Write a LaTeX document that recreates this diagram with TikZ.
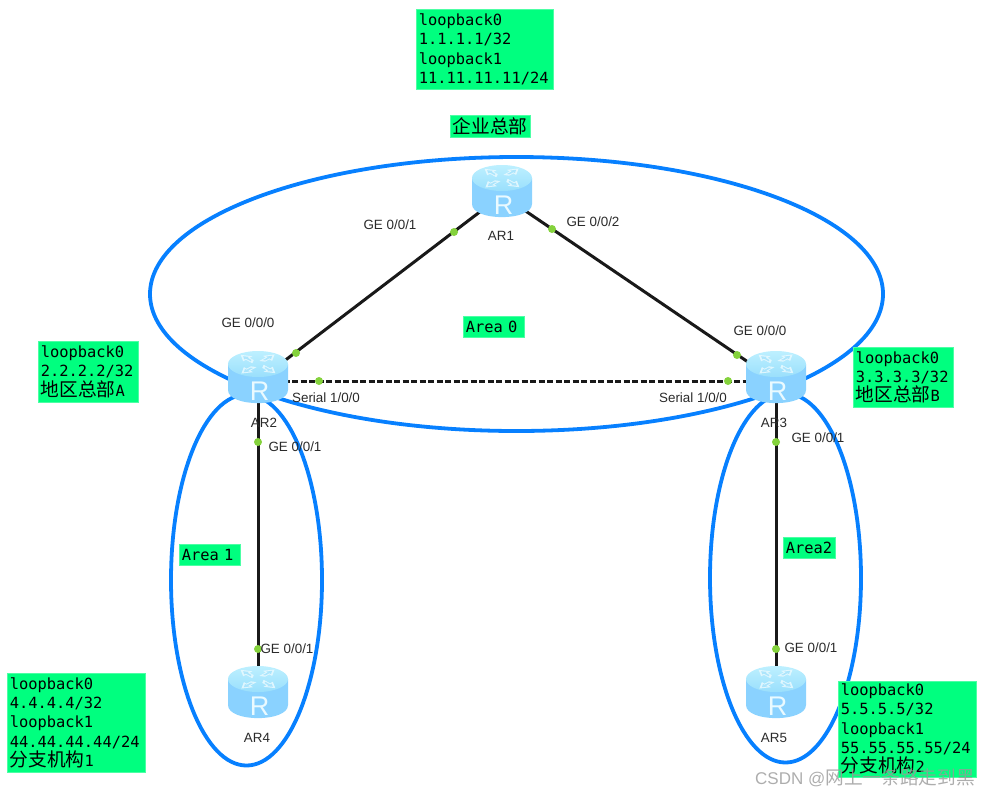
\documentclass[tikz,border=0pt]{standalone}
\usepackage{fontspec}
\setmainfont{Liberation Sans}
\setmonofont{DejaVu Sans Mono}
\newfontfamily\cjk{Noto Sans CJK SC}
\newcommand{\mymono}{\ttfamily\fontsize{15.4}{19.3}\selectfont}
\newcommand{\myhan}[1]{{\cjk\fontsize{18.7}{19.3}\selectfont #1}}
\definecolor{boxgreen}{HTML}{00FF7F}
\definecolor{areablue}{HTML}{0780FF}
\definecolor{dotgreen}{HTML}{84D23C}
\definecolor{labelink}{HTML}{2A2A2A}
\definecolor{bodyedge}{HTML}{8AD2FF}
\definecolor{bodymid}{HTML}{A6E0FF}
\definecolor{toplight}{HTML}{BDF0FF}
\definecolor{topdark}{HTML}{9ADFFC}
\definecolor{glyphpale}{HTML}{EAFAFF}
\tikzset{
  x=1pt,y=-1pt,
  greenbox/.style={fill=boxgreen,draw=boxgreen!70!white,line width=.6pt,anchor=north west,inner sep=2.5pt,align=left,font=\mymono},
  arealoop/.style={draw=areablue,line width=3.8pt},
  wire/.style={draw=black!90,line width=3pt},
  serialwire/.style={wire,dash pattern=on 6pt off 2.5pt},
  routerhost/.style={minimum width=60pt,minimum height=60pt,inner sep=0pt},
  portdot/.style={circle,fill=dotgreen,inner sep=0pt,minimum size=8pt},
  portlabel/.style={font=\fontsize{13.4}{15}\selectfont,text=labelink,inner sep=0pt},
}
\newcommand{\routericon}[1]{%
  \begin{scope}[shift={(#1)}]
    \path[left color=bodyedge,middle color=bodymid,right color=bodyedge]
      (-30,-17) -- (-30,9) .. controls (-30,26.5) and (30,26.5) .. (30,9) -- (30,-17) -- cycle;
    \path[top color=toplight,bottom color=topdark] (0,-17) ellipse[x radius=30,y radius=13];
    \begin{scope}[shift={(0,-17)},yscale=.55]
      \foreach \a in {45,135,225,315}{
        \begin{scope}[rotate=\a]
          \fill[glyphpale,opacity=.85] (5,-3) -- (14,-3) -- (14,-7) -- (24,-.5) -- (14,6) -- (14,2) -- (8,2) -- cycle;
          \fill[topdark,opacity=.75] (8.5,-1.6) -- (15.5,-1.6) -- (15.5,-3.8) -- (20.5,-.5) -- (15.5,2.8) -- (15.5,.6) -- (10,.6) -- cycle;
        \end{scope}
      }
    \end{scope}
    \node[text=glyphpale,font=\fontsize{27}{27}\selectfont,inner sep=0pt] at (1.5,10.5) {R};
  \end{scope}%
}
\begin{document}
\begin{tikzpicture}
\useasboundingbox (0,0) rectangle (981,796);

% router anchors (invisible hosts)
\node[routerhost] (ar1) at (502,195) {};
\node[routerhost] (ar2) at (258,381) {};
\node[routerhost] (ar3) at (776,381) {};
\node[routerhost] (ar4) at (258,696) {};
\node[routerhost] (ar5) at (776,696) {};

% OSPF areas
\draw[arealoop] (516.5,294) ellipse[x radius=366.5,y radius=137];
\draw[arealoop] (246.5,580) ellipse[x radius=75.5,y radius=185.5];
\draw[arealoop] (785.5,578) ellipse[x radius=75.5,y radius=184.5];

% links
\draw[wire] (ar1.center) -- (ar2.center);
\draw[wire] (ar1.center) -- (ar3.center);
\draw[serialwire] (ar2.center) -- (ar3.center);
\draw[wire] (ar2.center) -- (ar4.center);
\draw[wire] (ar3.center) -- (ar5.center);

% routers
\routericon{ar1.center}
\routericon{ar2.center}
\routericon{ar3.center}
\routericon{ar4.center}
\routericon{ar5.center}

% ports
\foreach \n/\p in {p1/{454,232},p2/{552,229},p3/{296,353},p4/{737,355},p5/{319,381},p6/{728,381},p7/{258,442},p8/{776,442},p9/{258,649},p10/{776,649}}{
  \node[portdot] (\n) at (\p) {};
}

% port labels
\node[portlabel] (l1) at (390,225) {GE 0/0/1};
\node[portlabel] (l2) at (593,222) {GE 0/0/2};
\node[portlabel] (l3) at (248,323) {GE 0/0/0};
\node[portlabel] (l4) at (760,331) {GE 0/0/0};
\node[portlabel] (l5) at (326,398) {Serial 1/0/0};
\node[portlabel] (l6) at (693,398) {Serial 1/0/0};
\node[portlabel] (l7) at (295,447) {GE 0/0/1};
\node[portlabel] (l8) at (818,438) {GE 0/0/1};
\node[portlabel] (l9) at (287,649) {GE 0/0/1};
\node[portlabel] (l10) at (811,648) {GE 0/0/1};
\node[portlabel] (n1) at (501,236) {AR1};
\node[portlabel] (n2) at (264,423) {AR2};
\node[portlabel] (n3) at (774,423) {AR3};
\node[portlabel] (n4) at (257,738) {AR4};
\node[portlabel] (n5) at (774,738) {AR5};

% green labels
\node[greenbox,text width=132pt,minimum height=80pt] (b1) at (416,9) {loopback0\\1.1.1.1/32\\loopback1\\11.11.11.11/24};
\node[greenbox,text width=75pt,minimum height=22pt,inner sep=2.5pt] (hq) at (450,115) {\myhan{企业总部}};
\node[greenbox,text width=95pt,minimum height=61pt] (b2) at (38,341) {loopback0\\2.2.2.2/32\\\myhan{地区总部}A};
\node[greenbox,text width=95pt,minimum height=60pt] (b3) at (853,347) {loopback0\\3.3.3.3/32\\\myhan{地区总部}B};
\node[greenbox,text width=133pt,minimum height=99pt] (b4) at (7,673) {loopback0\\4.4.4.4/32\\loopback1\\44.44.44.44/24\\\myhan{分支机构}1};
\node[greenbox,text width=133pt,minimum height=95pt] (b5) at (838,681) {loopback0\\5.5.5.5/32\\loopback1\\55.55.55.55/24\\\myhan{分支机构}2};
\node[greenbox,text width=56pt,minimum height=21pt] (a0) at (463,316) {Area 0};
\node[greenbox,text width=56pt,minimum height=21pt] (a1) at (179,544) {Area 1};
\node[greenbox,text width=47pt,minimum height=21pt] (a2) at (783,537) {Area2};

% watermark
\node[anchor=west,inner sep=0pt,text=black!40,opacity=.8,font=\fontsize{17}{19}\selectfont] (wm) at (755,778) {CSDN @{\cjk\fontsize{18.7}{19}\selectfont 网上一条路走到黑}};
\end{tikzpicture}
\end{document}
